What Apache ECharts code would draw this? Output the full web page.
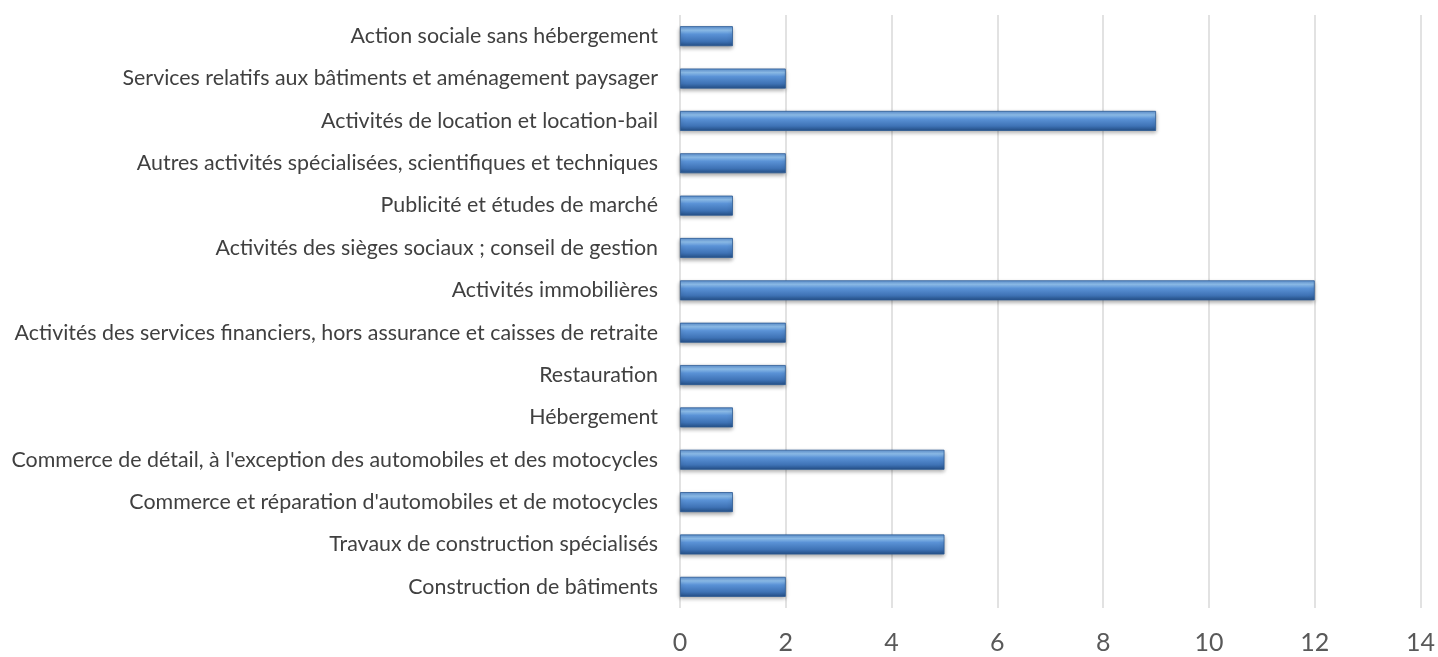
<!DOCTYPE html>
<html>
<head>
<meta charset="utf-8">
<script src="https://cdn.jsdelivr.net/npm/echarts@6/dist/echarts.min.js"></script>
<style>
html, body { margin: 0; padding: 0; background: #fff; }
#chart { width: 1438px; height: 657px; }
</style>
</head>
<body>
<div id="chart"></div>
<script>
const categories = [
  'Action sociale sans hébergement',
  'Services relatifs aux bâtiments et aménagement paysager',
  'Activités de location et location-bail',
  'Autres activités spécialisées, scientifiques et techniques',
  'Publicité et études de marché',
  'Activités des sièges sociaux ; conseil de gestion',
  'Activités immobilières',
  'Activités des services financiers, hors assurance et caisses de retraite',
  'Restauration',
  'Hébergement',
  "Commerce de détail, à l'exception des automobiles et des motocycles",
  "Commerce et réparation d'automobiles et de motocycles",
  'Travaux de construction spécialisés',
  'Construction de bâtiments'
]
const values = [1, 2, 9, 2, 1, 1, 12, 2, 2, 1, 5, 1, 5, 2]
const xTicks = [0, 2, 4, 6, 8, 10, 12, 14]

const chart = echarts.init(document.getElementById('chart'))
chart.setOption({
  animation: false,
  grid: { left: 680, right: 16, top: 15, bottom: 49 },
  xAxis: {
    type: 'value', min: xTicks[0], max: xTicks[xTicks.length - 1], interval: 2,
    axisLine: { show: false }, axisTick: { show: false },
    axisLabel: { color: '#595959', fontSize: 25, fontFamily: 'Lato', margin: 22 },
    splitLine: { lineStyle: { color: '#d9d9d9', width: 1.5 } }
  },
  yAxis: {
    type: 'category', data: categories, inverse: true,
    axisLine: { show: false }, axisTick: { show: false },
    axisLabel: { color: '#404040', fontSize: 21.4, fontFamily: 'Lato', margin: 22 }
  },
  series: [{
    type: 'bar', data: values, barWidth: 20,
    itemStyle: {
      color: new echarts.graphic.LinearGradient(0, 0, 0, 1, [
        { offset: 0, color: '#5b8fd0' },
        { offset: 0.2, color: '#8fc0ee' },
        { offset: 0.4, color: '#5a92d6' },
        { offset: 0.75, color: '#3f73b6' },
        { offset: 1, color: '#244f86' }
      ]),
      borderColor: '#2c5a94', borderWidth: 0.8,
      shadowColor: 'rgba(0,0,0,0.35)', shadowBlur: 4, shadowOffsetY: 2
    }
  }]
})
</script>
</body>
</html>
